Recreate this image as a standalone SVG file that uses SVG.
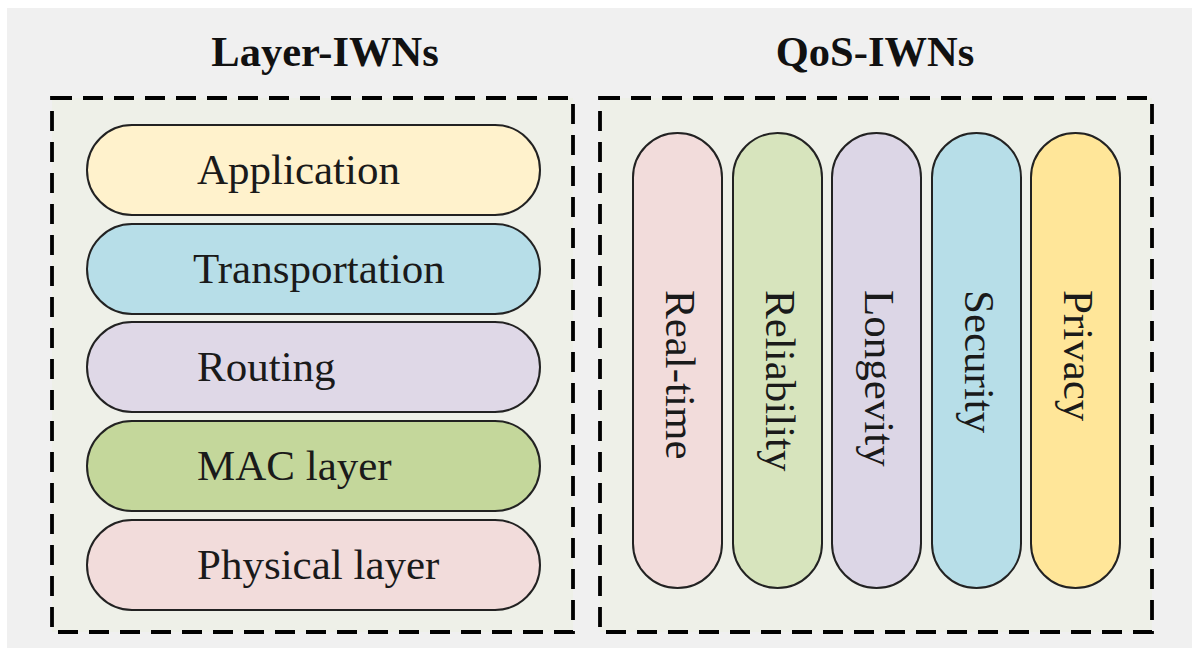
<svg xmlns="http://www.w3.org/2000/svg" width="1192" height="648" viewBox="0 0 1192 648">
  <style>
    .title { font-family: "Liberation Serif", "Times New Roman", serif; font-weight: bold; font-size: 42.5px; fill: #111; text-anchor: middle; }
    .lbl { font-family: "Liberation Serif", "Times New Roman", serif; font-size: 43px; fill: #1a1a1a; }
    .frame { fill: #eef0e8; stroke: #000; stroke-width: 3.8; stroke-dasharray: 20 11; }
    .pill { stroke: #222; stroke-width: 2; }
  </style>
  <rect x="0" y="0" width="1192" height="648" fill="#ffffff"/>
  <rect x="7" y="8" width="1185" height="640" fill="#f0f0f0"/>

  <!-- Layer-based view -->
  <g id="layer-iwns">
    <text class="title" x="325" y="66">Layer-IWNs</text>
    <rect class="frame" x="52" y="98" width="521" height="534"/>
  </g>
  <g id="application">
    <rect class="pill" x="87" y="125" width="453" height="90" rx="45" fill="#fff2cc"/>
    <text class="lbl" x="197" y="184">Application</text>
  </g>
  <g id="transportation">
    <rect class="pill" x="87" y="224" width="453" height="90" rx="45" fill="#b7dee8"/>
    <text class="lbl" x="193" y="283">Transportation</text>
  </g>
  <g id="routing">
    <rect class="pill" x="87" y="322" width="453" height="90" rx="45" fill="#dfd8e7"/>
    <text class="lbl" x="197" y="381">Routing</text>
  </g>
  <g id="mac-layer">
    <rect class="pill" x="87" y="421" width="453" height="90" rx="45" fill="#c4d79b"/>
    <text class="lbl" x="197" y="480">MAC layer</text>
  </g>
  <g id="physical-layer">
    <rect class="pill" x="87" y="520" width="453" height="90" rx="45" fill="#f2dcdb"/>
    <text class="lbl" x="197" y="579">Physical layer</text>
  </g>

  <!-- QoS-based view -->
  <g id="qos-iwns">
    <text class="title" x="875" y="66">QoS-IWNs</text>
    <rect class="frame" x="600" y="98" width="552" height="534"/>
  </g>
  <g id="real-time">
    <rect class="pill" x="633" y="133" width="89" height="455" rx="44.5" fill="#f2dcdb"/>
    <text class="lbl" transform="translate(666 290) rotate(90)">Real-time</text>
  </g>
  <g id="reliability">
    <rect class="pill" x="733" y="133" width="89" height="455" rx="44.5" fill="#d7e4bd"/>
    <text class="lbl" transform="translate(766 290) rotate(90)">Reliability</text>
  </g>
  <g id="longevity">
    <rect class="pill" x="832" y="133" width="89" height="455" rx="44.5" fill="#dcd6e6"/>
    <text class="lbl" transform="translate(865 290) rotate(90)">Longevity</text>
  </g>
  <g id="security">
    <rect class="pill" x="932" y="133" width="89" height="455" rx="44.5" fill="#b7dee8"/>
    <text class="lbl" transform="translate(965 290) rotate(90)">Security</text>
  </g>
  <g id="privacy">
    <rect class="pill" x="1031" y="133" width="89" height="455" rx="44.5" fill="#ffe699"/>
    <text class="lbl" transform="translate(1064 290) rotate(90)">Privacy</text>
  </g>
</svg>
